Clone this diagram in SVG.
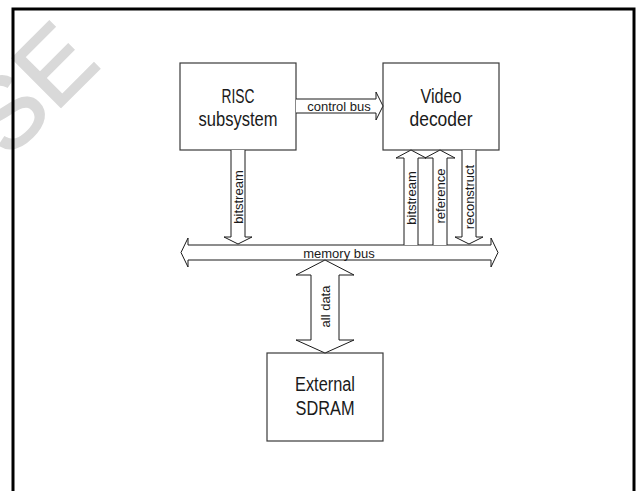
<svg xmlns="http://www.w3.org/2000/svg" width="639" height="491" viewBox="0 0 639 491">
<style>
.wm{font-family:"Liberation Sans",Arial,sans-serif;font-size:100px;fill:#d9d9d9;stroke:#d9d9d9;stroke-width:2}
.box{fill:#fff;stroke:#3a3a3a;stroke-width:1.2}
.big{font-family:"Liberation Sans",Arial,sans-serif;font-size:20px;fill:#1a1a1a;text-anchor:middle}
.lbl{font-family:"Liberation Sans",Arial,sans-serif;font-size:13px;fill:#1a1a1a;text-anchor:middle}
.arr{fill:#fff;stroke:#1a1a1a;stroke-width:1}
</style>
<rect width="639" height="491" fill="#fff"/>
<text class="wm" x="8" y="160" transform="rotate(-45 8 160)">SE</text>
<rect x="13" y="9" width="621" height="500" fill="none" stroke="#000" stroke-width="3"/>
<g id="risc">
<rect class="box" x="180" y="63" width="116" height="87"/>
<text class="big" x="238" y="103" textLength="33" lengthAdjust="spacingAndGlyphs">RISC</text>
<text class="big" x="238" y="126" textLength="79" lengthAdjust="spacingAndGlyphs">subsystem</text>
</g>
<g id="video">
<rect class="box" x="383" y="63" width="116" height="87"/>
<text class="big" x="441" y="103" textLength="41" lengthAdjust="spacingAndGlyphs">Video</text>
<text class="big" x="441" y="126" textLength="63" lengthAdjust="spacingAndGlyphs">decoder</text>
</g>
<g id="sdram">
<rect class="box" x="267" y="353" width="116" height="88"/>
<text class="big" x="325" y="391" textLength="60" lengthAdjust="spacingAndGlyphs">External</text>
<text class="big" x="325" y="415" textLength="59" lengthAdjust="spacingAndGlyphs">SDRAM</text>
</g>
<g id="connectors">
<g id="control-bus">
<polyline class="arr" points="296,99 376,99 376,92 383,106 376,120 376,113 296,113"/>
<text class="lbl" x="339" y="111">control bus</text>
</g>
<g id="memory-bus">
<polygon class="arr" points="181,252.5 188,238 188,245 491,245 491,238 498,252.5 491,267 491,260 188,260 188,267"/>
<text class="lbl" x="339" y="257.5">memory bus</text>
</g>
<g id="risc-bitstream">
<polyline class="arr" points="231,150 231,237 224,237 238,244 252,237 245,237 245,150"/>
<text class="lbl" x="242.5" y="197" transform="rotate(-90 242.5 197)">bitstream</text>
</g>
<g id="vd-bitstream">
<polyline class="arr" points="404,245 404,158 396,158 411,150 426,158 418,158 418,245"/>
<text class="lbl" x="415.5" y="198" transform="rotate(-90 415.5 198)">bitstream</text>
</g>
<g id="vd-reference">
<polyline class="arr" points="433,245 433,158 425,158 440,150 455,158 447,158 447,245"/>
<text class="lbl" x="444.5" y="196" transform="rotate(-90 444.5 196)">reference</text>
</g>
<g id="vd-reconstruct">
<polyline class="arr" points="462,150 462,237 455,237 469,244 483,237 476,237 476,150"/>
<text class="lbl" x="473.5" y="197" transform="rotate(-90 473.5 197)">reconstruct</text>
</g>
<g id="all-data">
<polygon class="arr" points="325,260 354,275 339,275 339,340 354,340 325,353 296,340 311,340 311,275 296,275"/>
<text class="lbl" x="329.5" y="306.5" transform="rotate(-90 329.5 306.5)">all data</text>
</g>
</g>
</svg>
